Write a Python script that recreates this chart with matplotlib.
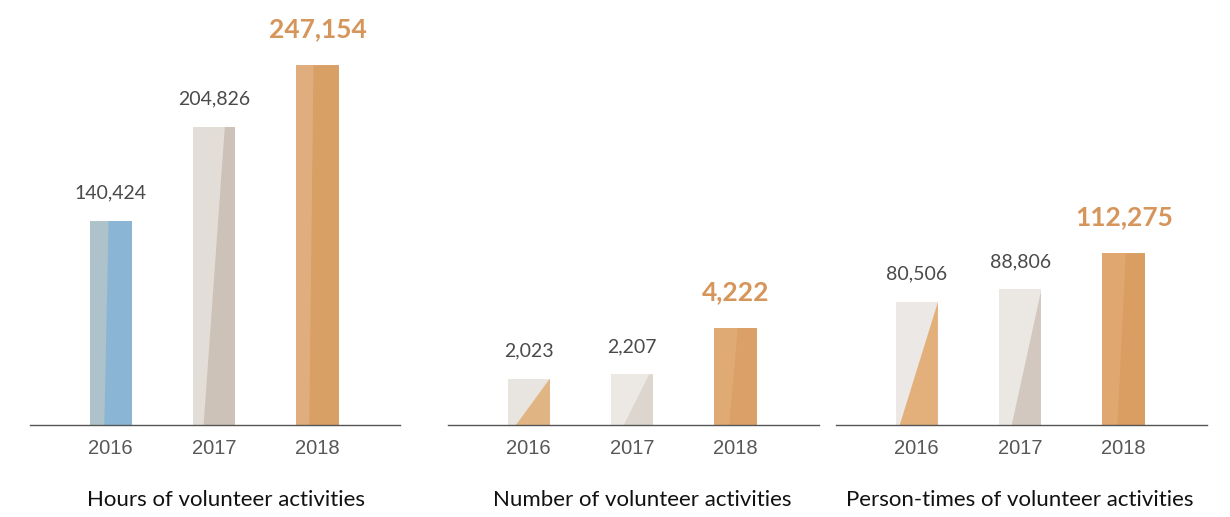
import matplotlib.pyplot as plt
from matplotlib.patches import Polygon

years = ["2016", "2017", "2018"]

hours = [140424, 204826, 247154]
activities = [2023, 2207, 4222]
person_times = [80506, 88806, 112275]

titles = [
    "Hours of volunteer activities",
    "Number of volunteer activities",
    "Person-times of volunteer activities",
]

# per-bar two-tone shading: (upper-left colour, lower-right colour, split at bottom, split at top)
shades = [
    [("#adc2ca", "#8ab5d4", 0.35, 0.45),
     ("#e3ddd7", "#cdc2b8", 0.25, 0.75),
     ("#e0ae7e", "#d9a065", 0.30, 0.40)],
    [("#e8e4df", "#e1b483", 0.20, 1.00),
     ("#ece8e4", "#ddd6cf", 0.30, 0.90),
     ("#dfaa74", "#daa067", 0.35, 0.55)],
    [("#ebe8e5", "#e3b07b", 0.10, 1.00),
     ("#ebe7e3", "#d2c8bf", 0.30, 1.00),
     ("#e0a770", "#da9e63", 0.35, 0.55)],
]

LABEL = "#4a4a4a"
HIGHLIGHT = "#d6955a"


def draw_panel(ax, values, shade, ymax):
    x = range(len(values))
    bars = ax.bar(x, values, width=0.41, color=[s[0] for s in shade], linewidth=0)
    for bar, (c_top, c_low, fb, ft) in zip(bars, shade):
        x0, w, h = bar.get_x(), bar.get_width(), bar.get_height()
        tri = Polygon([(x0 + fb * w, 0), (x0 + ft * w, h), (x0 + w, h), (x0 + w, 0)],
                      closed=True, facecolor=c_low, edgecolor="none")
        ax.add_patch(tri)
        tri.set_clip_path(bar)

    for i, v in enumerate(values):
        last = i == len(values) - 1
        ax.annotate(f"{v:,}", (i, v), xytext=(0, 26 if last else 20),
                    textcoords="offset points", ha="center", va="center",
                    family="Lato", fontsize=19 if last else 14,
                    fontweight="bold" if last else "normal",
                    color=HIGHLIGHT if last else LABEL)

    ax.set_xlim(-0.78, 2.8)
    ax.set_ylim(0, ymax)
    ax.set_xticks(list(x))
    ax.set_xticklabels(years, family="Liberation Sans", fontsize=14.5, color="#585858")
    ax.tick_params(axis="x", length=0, pad=10)
    ax.set_yticks([])
    for side in ("left", "right", "top"):
        ax.spines[side].set_visible(False)
    ax.spines["bottom"].set_color("#555555")
    ax.spines["bottom"].set_linewidth(1.0)


fig = plt.figure(figsize=(12.3, 5.17), dpi=100)
W, H = 1230, 517
lefts = [30, 448, 836]
ymaxes = [292000, 18500, 278000]
series = [hours, activities, person_times]
title_x = [226, 642, 1020]

for left, vals, shade, ymax, title, tx in zip(lefts, series, shades, ymaxes, titles, title_x):
    ax = fig.add_axes([left / W, 92 / H, 370.5 / W, 425 / H])
    draw_panel(ax, vals, shade, ymax)
    fig.text(tx / W, 17 / H, title, ha="center", va="center",
             family="Lato", fontsize=16, color="#111111")

fig.savefig("out.png", dpi=100, facecolor="white")
